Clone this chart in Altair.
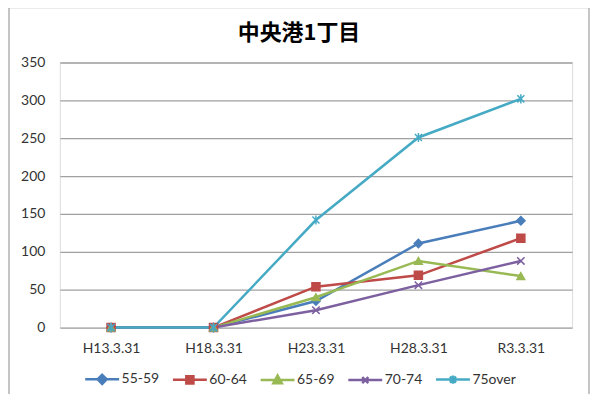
import altair as alt
import pandas as pd

title_text = ["中央港1丁目"]
categories = ["H13.3.31", "H18.3.31", "H23.3.31", "H28.3.31", "R3.3.31"]
series_names = ["55-59", "60-64", "65-69", "70-74", "75over"]
v_55_59 = [0, 0, 35, 111, 141]
v_60_64 = [0, 0, 54, 69, 118]
v_65_69 = [0, 0, 40, 88, 68]
v_70_74 = [0, 0, 23, 56, 88]
v_75over = [0, 0, 142, 251, 302]
y_ticks = [0, 50, 100, 150, 200, 250, 300, 350]

colors = ["#4A7EBB", "#BE4B48", "#98B954", "#7D60A0", "#46AAC5"]
marker_keys = ["m1", "m2", "m3", "m4", "m5"]
marker_shapes = [
    "diamond",
    "square",
    "triangle-up",
    "M-1,-1L1,1M-1,1L1,-1",
    "M-1,-1L1,1M-1,1L1,-1M0,-1.3L0,1.3",
]
marker_sizes = [70, 50, 60, 36, 40]

# legend symbols: line + marker (unit square coords)
line_p = "M-1,0L1,0"
legend_paths = [
    line_p + "M0,-0.27L0.27,0L0,0.27L-0.27,0Z",
    line_p + "M-0.21,-0.21L0.21,-0.21L0.21,0.21L-0.21,0.21Z",
    line_p + "M0,-0.26L0.25,0.19L-0.25,0.19Z",
    line_p + "M-0.18,-0.18L0.18,0.18M-0.18,0.18L0.18,-0.18",
    line_p + "M-0.18,-0.18L0.18,0.18M-0.18,0.18L0.18,-0.18M0,-0.24L0,0.24",
]
sym_expr = ""
for name, p in zip(series_names[:-1], legend_paths[:-1]):
    sym_expr += f"datum.value === '{name}' ? '{p}' : "
sym_expr += f"'{legend_paths[-1]}'"

rows = []
for name, key, vals in zip(series_names, marker_keys, [v_55_59, v_60_64, v_65_69, v_70_74, v_75over]):
    for c, v in zip(categories, vals):
        rows.append({"series": name, "marker": key, "date": c, "value": v})
df = pd.DataFrame(rows)

FONT = "Lato"
legend = alt.Legend(
    title=None,
    orient="none",
    legendX=24,
    legendY=299,
    direction="horizontal",
    symbolType=alt.ExprRef(expr=sym_expr),
    symbolSize=1156,
    symbolStrokeWidth=2.5,
    symbolFillColor=alt.ExprRef(expr="scale('color', datum.value)"),
    symbolOpacity=1,
    labelFont=FONT,
    labelFontSize=14,
    labelColor="#333333",
    labelOffset=1,
    columnPadding=8,
)

color = alt.Color("series:N", scale=alt.Scale(domain=series_names, range=colors), legend=legend)
x = alt.X(
    "date:N",
    sort=categories,
    title=None,
    axis=alt.Axis(
        labelAngle=0, domain=False, ticks=False, labelPadding=14,
        labelFont=FONT, labelFontSize=14, labelColor="#333333", grid=False,
    ),
)
y = alt.Y(
    "value:Q",
    title=None,
    scale=alt.Scale(domain=[0, 350], nice=False),
    axis=alt.Axis(
        values=y_ticks, domain=False, ticks=False, labelPadding=15,
        labelFont=FONT, labelFontSize=14, labelColor="#333333",
        grid=True, gridColor="#a0a0a0", gridWidth=1.3,
    ),
)

base = alt.Chart(df)
lines = base.mark_line(strokeWidth=2.5).encode(x=x, y=y, color=color)
mscale = dict(domain=marker_keys)
points = base.mark_point(filled=True, opacity=1, strokeWidth=1.5).encode(
    x=x,
    y=y,
    fill=alt.Fill("marker:N", scale=alt.Scale(range=colors, **mscale), legend=None),
    stroke=alt.Stroke("marker:N", scale=alt.Scale(range=colors, **mscale), legend=None),
    shape=alt.Shape("marker:N", scale=alt.Scale(range=marker_shapes, **mscale), legend=None),
    size=alt.Size("marker:N", scale=alt.Scale(range=marker_sizes, **mscale), legend=None),
)

frame = alt.Chart(pd.DataFrame({"k": [0]})).mark_rect(
    fill="transparent", stroke="#8c8c8c", strokeWidth=1
).encode(x=alt.value(-51), x2=alt.value(531), y=alt.value(-55), y2=alt.value(340))

title = alt.Chart(pd.DataFrame({"t": title_text})).mark_text(
    font="Noto Sans CJK JP", fontSize=22, fontWeight="bold", color="#000000",
    align="center", baseline="middle",
).encode(text="t:N", x=alt.value(240), y=alt.value(-30))

chart = alt.layer(frame, title, lines, points).properties(
    width=514,
    height=266,
    autosize=alt.AutoSizeParams(type="none"),
    padding={"left": 52, "top": 54, "right": 20, "bottom": 72},
).configure_view(stroke=None).configure(background="white")

chart.save("out.html", embed_options={"renderer": "svg", "actions": False})
